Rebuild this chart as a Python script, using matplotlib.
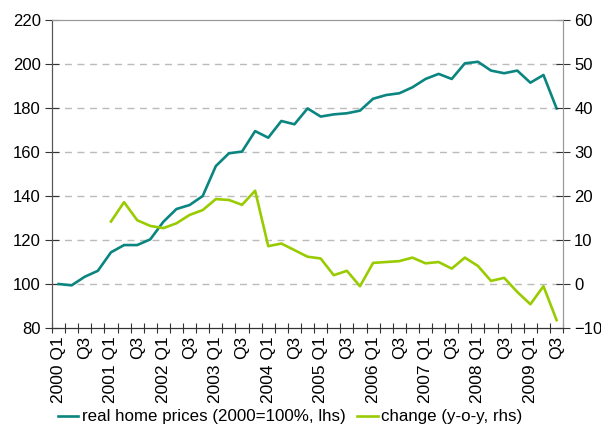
import matplotlib
matplotlib.use("Agg")
import matplotlib.pyplot as plt
import numpy as np

plt.rcParams['font.family'] = ['Liberation Sans', 'DejaVu Sans']

years = list(range(2000, 2010))
quarters = [f"{y} Q{q}" for y in years for q in range(1, 5)][:39]

prices = [100, 99.4, 103.3, 106, 114.4, 117.7, 117.7, 120.3, 128.3, 134.1,
          135.9, 140, 153.6, 159.4, 160.2, 169.5, 166.5, 174.1, 172.6, 179.8,
          176.1, 177.1, 177.6, 178.8, 184.2, 185.9, 186.7, 189.4, 193.2, 195.5,
          193.2, 200.3, 201, 197, 195.8, 197, 191.5, 195, 179.8]

change = [np.nan, np.nan, np.nan, np.nan, 14.2, 18.6, 14.5, 13.2, 12.7, 13.8,
          15.7, 16.8, 19.3, 19.1, 18.0, 21.2, 8.6, 9.2, 7.7, 6.2,
          5.8, 2.0, 3.0, -0.5, 4.8, 5.0, 5.2, 6.0, 4.7, 5.0,
          3.5, 6.0, 4.1, 0.7, 1.4, -1.8, -4.6, -0.5, -8.2]

tick_labels = []
for q in quarters:
    y, qq = q.split()
    if qq == "Q1":
        tick_labels.append(f"{y} Q1")
    elif qq == "Q3":
        tick_labels.append("Q3")
    else:
        tick_labels.append("")

teal = "#0A8580"
green = "#99CC00"

fig = plt.figure(figsize=(6.01, 4.29), dpi=100)
ax = fig.add_axes([0.0865, 0.2354, 0.8505, 0.718])
ax2 = ax.twinx()

x = np.arange(len(quarters))
l1, = ax.plot(x, prices, color=teal, lw=1.9, label="real home prices (2000=100%, lhs)")
l2, = ax2.plot(x, change, color=green, lw=1.9, label="change (y-o-y, rhs)")

ax.set_xlim(-0.5, len(quarters) - 0.5)
ax.set_ylim(80, 220)
ax.set_yticks(range(80, 221, 20))
ax2.set_ylim(-10, 60)
ax2.set_yticks(range(-10, 61, 10))

for v in range(100, 220, 20):
    ax.axhline(v, color="#BBBBBB", lw=1, ls=(0, (5, 4)), zorder=0)

ax.set_xticks(np.arange(-0.5, len(quarters), 1))
ax.set_xticklabels([])
ax.tick_params(axis='x', which='major', direction='inout', length=7, width=0.8, color="#333333")
ax.set_xticks(x, minor=True)
ax.set_xticklabels(tick_labels, minor=True, rotation=90, fontsize=12.5)
ax.tick_params(axis='x', which='minor', length=0, pad=6)

ax.tick_params(axis='y', direction='inout', length=10, width=0.8, labelsize=12, color="#333333", pad=3)
ax2.tick_params(axis='y', direction='inout', length=10, width=0.8, labelsize=12, color="#333333", pad=3)

for a in (ax, ax2):
    a.spines['top'].set_color("#999999")
    a.spines['right'].set_color("#999999")
    a.spines['left'].set_color("#555555")
    a.spines['bottom'].set_color("#333333")
    a.set_facecolor('none')

fig.legend(handles=[l1, l2], loc='lower center', bbox_to_anchor=(0.483, -0.025), ncol=2,
           frameon=False, fontsize=12.2, handlelength=1.2, handletextpad=0.2, columnspacing=0.7)

fig.savefig("out.png", dpi=100)
